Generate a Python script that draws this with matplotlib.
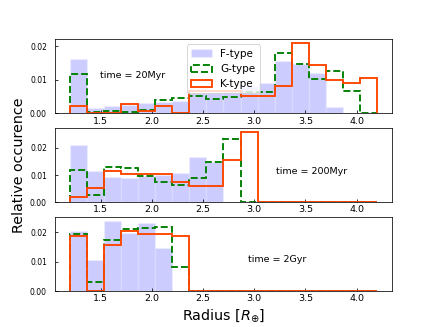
import numpy as np
import matplotlib
matplotlib.use('Agg')
import matplotlib.pyplot as plt

# Radius bins (R_earth)
edges = np.linspace(1.2, 4.2, 19)
centers = 0.5 * (edges[:-1] + edges[1:])

labels = ['time = 20Myr', 'time = 200Myr', 'time = 2Gyr']

# Relative occurence per bin
f_20myr = [0.0162, 0.0016, 0.0022, 0.0026, 0.0030, 0.0035, 0.0038, 0.0060, 0.0062,
           0.0068, 0.0082, 0.0090, 0.0157, 0.0147, 0.0120, 0.0019, 0.0, 0.0]
g_20myr = [0.0118, 0.0004, 0.0007, 0.0004, 0.0010, 0.0039, 0.0047, 0.0052, 0.0043,
           0.0050, 0.0062, 0.0062, 0.0180, 0.0147, 0.0103, 0.0126, 0.0066, 0.0]
k_20myr = [0.0021, 0.0, 0.0, 0.0028, 0.0007, 0.0021, 0.0, 0.0066, 0.0066,
           0.0066, 0.0052, 0.0052, 0.0082, 0.0210, 0.0145, 0.0100, 0.0090, 0.0104]

f_200myr = [0.0211, 0.0116, 0.0094, 0.0090, 0.0098, 0.0100, 0.0107, 0.0168, 0.0148,
            0.0, 0.0, 0.0, 0.0, 0.0, 0.0, 0.0, 0.0, 0.0]
g_200myr = [0.0120, 0.0027, 0.0130, 0.0125, 0.0098, 0.0073, 0.0064, 0.0088, 0.0147,
            0.0233, 0.0, 0.0, 0.0, 0.0, 0.0, 0.0, 0.0, 0.0]
k_200myr = [0.0020, 0.0051, 0.0116, 0.0104, 0.0104, 0.0104, 0.0073, 0.0058, 0.0058,
            0.0157, 0.0260, 0.0, 0.0, 0.0, 0.0, 0.0, 0.0, 0.0]

f_2gyr = [0.0204, 0.0104, 0.0239, 0.0195, 0.0229, 0.0146, 0.0, 0.0, 0.0,
          0.0, 0.0, 0.0, 0.0, 0.0, 0.0, 0.0, 0.0, 0.0]
g_2gyr = [0.0192, 0.0032, 0.0172, 0.0210, 0.0212, 0.0218, 0.0081, 0.0, 0.0,
          0.0, 0.0, 0.0, 0.0, 0.0, 0.0, 0.0, 0.0, 0.0]
k_2gyr = [0.0187, 0.0, 0.0155, 0.0204, 0.0193, 0.0193, 0.0187, 0.0, 0.0,
          0.0, 0.0, 0.0, 0.0, 0.0, 0.0, 0.0, 0.0, 0.0]

panels = [(f_20myr, g_20myr, k_20myr),
          (f_200myr, g_200myr, k_200myr),
          (f_2gyr, g_2gyr, k_2gyr)]
text_pos = [(0.23, 0.51), (0.76, 0.41), (0.66, 0.43)]

fig, axes = plt.subplots(3, 1, figsize=(6.4, 4.8), dpi=68.125)

for ax, (f, g, k), label, pos in zip(axes, panels, labels, text_pos):
    ax.hist(centers, bins=edges, weights=f, histtype='bar',
            color='blue', alpha=0.2, edgecolor='white', lw=1.5,
            label='F-type')
    ax.hist(centers, bins=edges, weights=g, histtype='step',
            color='green', ls='--', lw=2, label='G-type')
    ax.hist(centers, bins=edges, weights=k, histtype='step',
            color='orangered', lw=2, label='K-type')

    ax.text(pos[0], pos[1], label, transform=ax.transAxes,
            ha='center', va='center', fontsize=10)
    ax.set_yticks([0.0, 0.01, 0.02])
    ax.set_xticks([1.5, 2.0, 2.5, 3.0, 3.5, 4.0])
    ax.tick_params(direction='in')
    ax.tick_params(axis='x', labelsize=10)
    ax.tick_params(axis='y', labelsize=8, pad=8)

axes[0].legend(loc='upper center', fontsize=11)
axes[1].set_ylabel('Relative occurence', fontsize=15)
axes[2].set_xlabel(r'Radius [$R_{\oplus}$]', fontsize=15)

fig.savefig('out.png', dpi=68.125)
